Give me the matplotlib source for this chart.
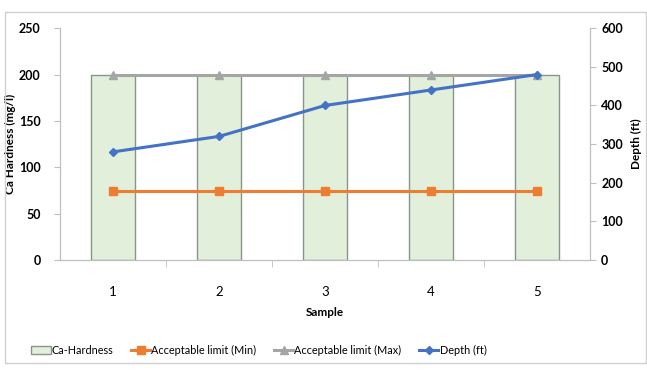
import matplotlib
matplotlib.use("Agg")
import matplotlib.pyplot as plt
from matplotlib.patches import Rectangle

# ── data ─────────────────────────────────────────────────────────────────────
samples = [1, 2, 3, 4, 5]
ca_hardness = [200, 200, 200, 200, 200]
limit_min = [75, 75, 75, 75, 75]
limit_max = [200, 200, 200, 200, 200]
depth_ft = [280, 320, 400, 440, 480]

FONT = ["Lato", "DejaVu Sans"]
plt.rcParams["font.family"] = FONT

fig = plt.figure(figsize=(6.47, 3.70), dpi=100)
# outer chart frame
fig.patches.append(Rectangle((0.008, 0.02), 0.99, 0.948, transform=fig.transFigure,
                             fill=False, edgecolor="#d0d0d0", lw=1.0))

ax = fig.add_axes([0.093, 0.297, 0.819, 0.627])
ax2 = ax.twinx()

bars = ax.bar(samples, ca_hardness, width=0.41, color="#e2efda",
              edgecolor="#8a958a", linewidth=1.0, label="Ca-Hardness", zorder=1)
l_min, = ax.plot(samples, limit_min, "-s", color="#ed7d31", lw=2.2, ms=5.5,
                 label="Acceptable limit (Min)", zorder=3)
l_max, = ax.plot(samples, limit_max, "-^", color="#a5a5a5", lw=2.2, ms=5.5,
                 label="Acceptable limit (Max)", zorder=3)
l_dep, = ax2.plot(samples, depth_ft, "-D", color="#4472c4", lw=2.2, ms=4.5,
                  label="Depth (ft)", zorder=3)

ax.set_xlim(0.5, 5.5)
ax.set_ylim(0, 250)
ax2.set_ylim(0, 600)
ax.set_yticks(range(0, 251, 50))
ax2.set_yticks(range(0, 601, 100))
ax.set_xticks(samples)
ax.set_xticks([1.5, 2.5, 3.5, 4.5], minor=True)

for a in (ax, ax2):
    for s in a.spines.values():
        s.set_color("#bfbfbf")
    a.spines["top"].set_visible(False)
ax.tick_params(axis="y", colors="#bfbfbf", labelcolor="black", length=4,
               labelsize=9, pad=10)
ax2.tick_params(axis="y", colors="#bfbfbf", labelcolor="black", length=4,
                labelsize=9, pad=4)
ax.tick_params(axis="x", which="major", length=0, pad=19, labelsize=9.5)
ax.tick_params(axis="x", which="minor", length=5, colors="#bfbfbf")
for lab in ax.get_yticklabels() + ax2.get_yticklabels():
    lab.set_fontweight("bold")

ax.set_ylabel("Ca Hardness (mg/l)", fontsize=8.5, fontweight="bold")
ax2.set_ylabel("Depth (ft)", fontsize=8.5, fontweight="bold")
ax.yaxis.set_label_coords(-0.083, 0.5)
ax2.yaxis.set_label_coords(1.078, 0.5)
ax.set_xlabel("Sample", fontsize=8.5, fontweight="bold", labelpad=6)

fig.legend([bars, l_min, l_max, l_dep],
           ["Ca-Hardness", "Acceptable limit (Min)", "Acceptable limit (Max)", "Depth (ft)"],
           loc="center", bbox_to_anchor=(0.40, 0.054), ncol=4, frameon=False,
           fontsize=7.8, handlelength=1.8, handletextpad=0.1, columnspacing=1.6)

fig.savefig("out.png", dpi=100)
